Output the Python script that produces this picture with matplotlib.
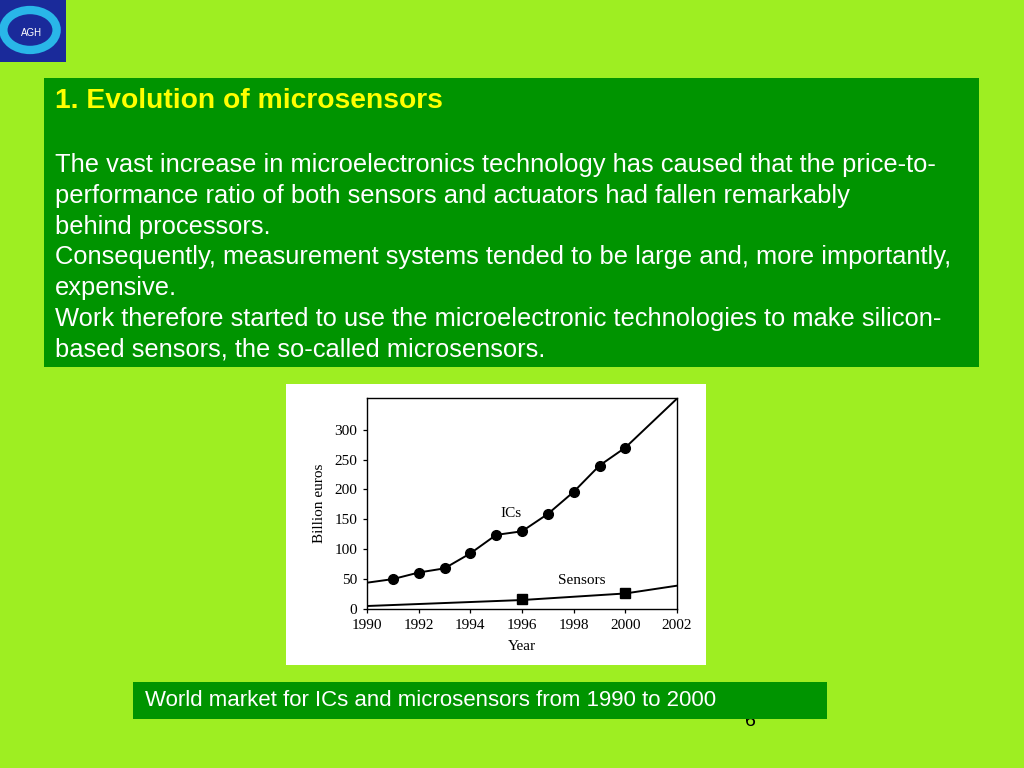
import matplotlib
matplotlib.use('Agg')
import matplotlib.pyplot as plt
from matplotlib.patches import Rectangle, Circle

# data
ic_years = [1990, 1991, 1992, 1993, 1994, 1995, 1996, 1997, 1998, 1999, 2000, 2002]
ic_values = [44, 50, 61, 68, 93, 124, 130, 159, 196, 240, 270, 352]
ic_marked = [1991, 1992, 1993, 1994, 1995, 1996, 1997, 1998, 1999, 2000]
ic_marked_values = [50, 61, 68, 93, 124, 130, 159, 196, 240, 270]

sensor_years = [1990, 1996, 2000, 2002]
sensor_values = [5, 15, 26, 39]
sensor_marked = [1996, 2000]
sensor_marked_values = [16, 27]

xticks = [1990, 1992, 1994, 1996, 1998, 2000, 2002]
yticks = [0, 50, 100, 150, 200, 250, 300]

title = "1. Evolution of microsensors"
body = [
    "The vast increase in microelectronics technology has caused that the price-to-",
    "performance ratio of both sensors and actuators had fallen remarkably",
    "behind processors.",
    "Consequently, measurement systems tended to be large and, more importantly,",
    "expensive.",
    "Work therefore started to use the microelectronic technologies to make silicon-",
    "based sensors, the so-called microsensors.",
]
caption = "World market for ICs and microsensors from 1990 to 2000"

W, H = 1024, 768
BG = '#9eee22'
DARK = '#009400'

def fx(px):
    return px / W

def fy(py):
    return 1 - py / H

fig = plt.figure(figsize=(10.24, 7.68), dpi=100)
fig.patch.set_facecolor(BG)

# logo (rough)
fig.patches.append(Rectangle((0, fy(62)), fx(66), 62 / H, transform=fig.transFigure,
                             facecolor='#1a2a9a', edgecolor='none'))
fig.patches.append(Circle((fx(30), fy(30)), 0.026, transform=fig.transFigure,
                          facecolor='none', edgecolor='#29b6e8', linewidth=6))
fig.text(fx(32), fy(33), "AGH", color='white', fontsize=7, ha='center', va='center',
         family='Liberation Sans')

# text box
fig.patches.append(Rectangle((fx(44), fy(367)), fx(979 - 44), (367 - 78) / H,
                             transform=fig.transFigure, facecolor=DARK, edgecolor='none'))
fig.text(fx(55), fy(101), title, color='#ffff00', fontsize=20.3, fontweight='bold',
         ha='left', va='center', family='Liberation Sans')
for i, line in enumerate(body):
    fig.text(fx(55), fy(165 + i * 30.8), line, color='white', fontsize=18.4,
             ha='left', va='center', family='Liberation Sans')

# white panel behind the chart
fig.patches.append(Rectangle((fx(286), fy(665)), fx(706 - 286), (665 - 384) / H,
                             transform=fig.transFigure, facecolor='white', edgecolor='none',
                             zorder=0))

serif = 'Liberation Serif'
ax = fig.add_axes([fx(367), fy(609), fx(677 - 367), (609 - 398) / H])
ax.set_zorder(5)
ax.plot(ic_years, ic_values, color='black', linewidth=1.4)
ax.plot(ic_marked, ic_marked_values, 'o', color='black', markersize=7)
ax.plot(sensor_years, sensor_values, color='black', linewidth=1.4)
ax.plot(sensor_marked, sensor_marked_values, 's', color='black', markersize=6.5)
ax.text(1995.15, 160, "ICs", fontsize=11, family=serif, ha='left', va='center')
ax.text(1997.4, 47, "Sensors", fontsize=11, family=serif, ha='left', va='center')

ax.set_xlim(1990, 2002)
ax.set_ylim(0, 353)
ax.set_xticks(xticks)
ax.set_yticks(yticks)
ax.tick_params(labelsize=11, length=3, width=0.9, pad=4)
for lab in ax.get_xticklabels() + ax.get_yticklabels():
    lab.set_family(serif)
ax.set_xlabel("Year", fontsize=11, family=serif, labelpad=6)
ax.set_ylabel("Billion euros", fontsize=11, family=serif, labelpad=6)
for s in ax.spines.values():
    s.set_linewidth(1.0)

# page number, partly hidden by caption box
fig.text(fx(750), fy(722), "6", fontsize=14, color='black', ha='center', va='center',
         family='Liberation Sans', zorder=1)

# caption box
fig.patches.append(Rectangle((fx(133), fy(719)), fx(827 - 133), (719 - 682) / H,
                             transform=fig.transFigure, facecolor=DARK, edgecolor='none',
                             zorder=2))
fig.text(fx(145), fy(701), caption, color='white', fontsize=16, ha='left', va='center',
         family='Liberation Sans', zorder=3)

fig.savefig('out.png', dpi=100, facecolor=BG)
